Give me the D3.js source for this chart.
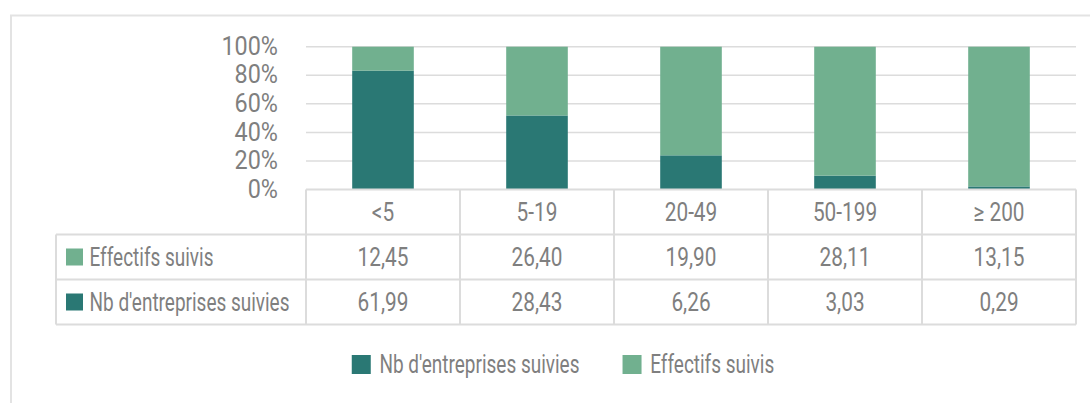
<!DOCTYPE html>
<html><head><meta charset="utf-8">
<script src="https://cdn.jsdelivr.net/npm/d3@7"></script>
<style>html,body{margin:0;padding:0;background:#fff;overflow:hidden}</style>
</head><body>
<script>
const categories = ["<5", "5-19", "20-49", "50-199", "≥ 200"];
const entreprises = [61.99, 28.43, 6.26, 3.03, 0.29];
const effectifs = [12.45, 26.40, 19.90, 28.11, 13.15];
const yTicks = [0, 0.2, 0.4, 0.6, 0.8, 1];
const seriesNames = {entreprises: "Nb d'entreprises suivies", effectifs: "Effectifs suivis"};

const W = 1090, H = 403;
const DARK = "#2A7874", LIGHT = "#71B08F", TXT = "#7F7F7F", GRID = "#DCDCDC";
const FONT = "Roboto, 'Noto Sans', sans-serif", FS = 26;

const svg = d3.select("body").append("svg").attr("width", W).attr("height", H)
  .style("font-family", FONT);
svg.append("rect").attr("width", W).attr("height", H).attr("fill", "#fff");
// outer frame (only top and left edges visible)
svg.append("rect").attr("x", 11).attr("y", 15.5).attr("width", 1200).attr("height", 500)
  .attr("fill", "none").attr("stroke", "#E3E3E3").attr("stroke-width", 2);

const data = categories.map((c, i) => ({cat: c, entreprises: entreprises[i], effectifs: effectifs[i]}));
const stack = d3.stack().keys(["entreprises", "effectifs"]).offset(d3.stackOffsetExpand)(data);

const plotLeft = 306, plotRight = 1076;
const x = d3.scaleBand().domain(categories).range([plotLeft, plotRight]).paddingInner(0.6).paddingOuter(0.3);
const step = x.step();
const y = d3.scaleLinear().domain([0, 1]).range([189.5, 46.7]);
const tableTop = y(0), rowH = 45, tableLeft = 56;

function txt(g, s, tx, ty, sx, anchor) {
  return g.append("text").attr("transform", `translate(${tx},${ty}) scale(${sx},1)`)
    .attr("text-anchor", anchor).attr("dy", "0.355em").attr("fill", TXT)
    .attr("font-size", FS).text(s);
}

// gridlines
svg.append("g").selectAll("line").data(yTicks.filter(t => t > 0)).join("line")
  .attr("x1", plotLeft).attr("x2", plotRight).attr("y1", d => y(d)).attr("y2", d => y(d))
  .attr("stroke", GRID).attr("stroke-width", 1.5);

// y axis labels
const fmtPct = d3.format(".0%");
const ya = svg.append("g");
yTicks.forEach(t => txt(ya, fmtPct(t), 278, y(t) - 1, 0.9, "end"));

// bars
const colors = {entreprises: DARK, effectifs: LIGHT};
svg.append("g").selectAll("g").data(stack).join("g").attr("fill", d => colors[d.key])
  .selectAll("rect").data(d => d).join("rect")
  .attr("x", d => x(d.data.cat)).attr("width", x.bandwidth())
  .attr("y", d => y(d[1])).attr("height", d => y(d[0]) - y(d[1]));

// data table
const tg = svg.append("g");
const rows = [
  {key: "effectifs", vals: effectifs},
  {key: "entreprises", vals: entreprises}
];
const colEdges = categories.map(c => x(c) - (step - x.bandwidth()) / 2);
colEdges.push(plotRight);
const line = (x1, y1, x2, y2) => tg.append("line").attr("x1", x1).attr("y1", y1).attr("x2", x2).attr("y2", y2)
  .attr("stroke", GRID).attr("stroke-width", 2);
line(plotLeft, tableTop, plotRight, tableTop);
rows.forEach((r, i) => line(tableLeft, tableTop + (i + 1) * rowH, plotRight, tableTop + (i + 1) * rowH));
line(tableLeft, tableTop + (rows.length + 1) * rowH, plotRight, tableTop + (rows.length + 1) * rowH);
line(tableLeft, tableTop + rowH, tableLeft, tableTop + (rows.length + 1) * rowH);
colEdges.forEach(cx => line(cx, tableTop, cx, tableTop + (rows.length + 1) * rowH));

const fmtNum = v => d3.format(".2f")(v).replace(".", ",");
categories.forEach(c => txt(tg, c, x(c) + x.bandwidth() / 2, tableTop + rowH / 2 - 0.5, 0.8, "middle"));
rows.forEach((row, ri) => {
  const cy = tableTop + rowH * (ri + 1) + rowH / 2;
  tg.append("rect").attr("x", 66).attr("y", cy - 8.5).attr("width", 17).attr("height", 17).attr("fill", colors[row.key]);
  txt(tg, seriesNames[row.key], 89.5, cy - 0.5, 0.73, "start");
  categories.forEach((c, i) => txt(tg, fmtNum(row.vals[i]), x(c) + x.bandwidth() / 2, cy - 0.5, 0.8, "middle"));
});

// legend
const lg = svg.append("g");
const legendKeys = ["entreprises", "effectifs"];
const sq = 19, gapT = 8.7, gapItem = 43, sxL = 0.73;
const items = legendKeys.map(k => {
  const t = lg.append("text").attr("font-size", FS).attr("fill", TXT).attr("dy", "0.355em").text(seriesNames[k]);
  const w = t.node().getComputedTextLength() * sxL;
  return {k, t, w};
});
const total = d3.sum(items, d => sq + gapT + d.w) + gapItem * (items.length - 1);
let lx = 563 - total / 2;
const ly = 364.5;
items.forEach(it => {
  lg.append("rect").attr("x", lx).attr("y", ly - sq / 2).attr("width", sq).attr("height", sq).attr("fill", colors[it.k]);
  it.t.attr("transform", `translate(${lx + sq + gapT},${ly - 0.5}) scale(${sxL},1)`);
  lx += sq + gapT + it.w + gapItem;
});
</script>
</body></html>
